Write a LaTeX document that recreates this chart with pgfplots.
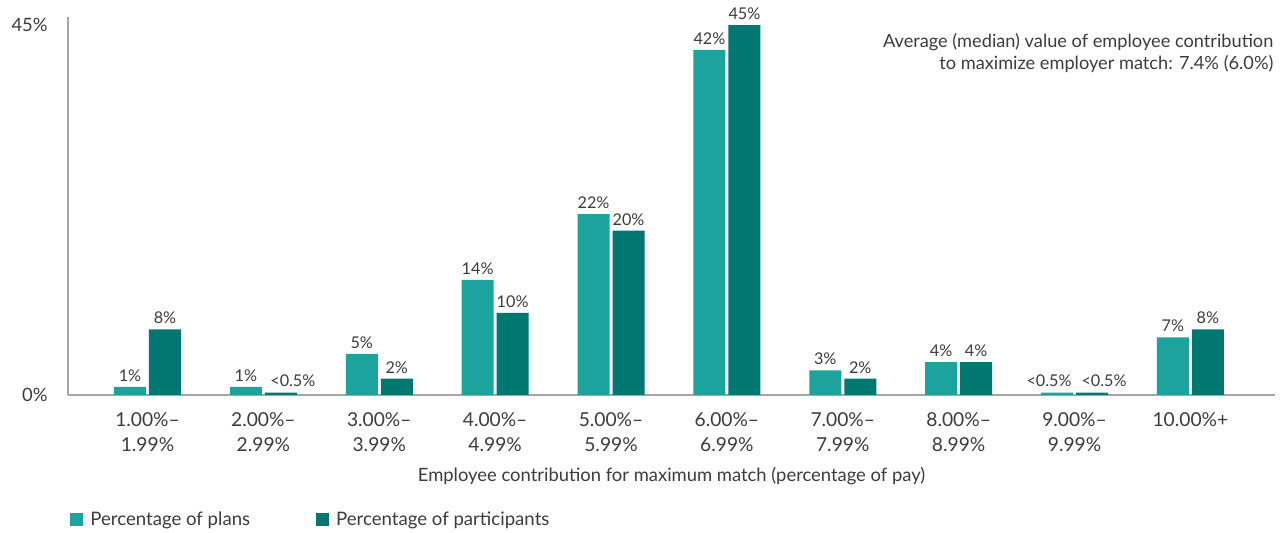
\documentclass[border=0pt]{standalone}
\usepackage{pgfplots}
\pgfplotsset{compat=1.18}
\usepackage{fontspec}
\setmainfont{Lato}
\definecolor{cPlans}{RGB}{29,163,157}
\definecolor{cPart}{RGB}{0,119,112}
\definecolor{cText}{RGB}{60,60,60}
\definecolor{cAxis}{RGB}{165,165,165}

\begin{document}
\begin{tikzpicture}
\useasboundingbox (-34pt,-69pt) rectangle (608.5pt,197.5pt);
\begin{axis}[
  scale only axis, width=603.5pt, height=189pt,
  ybar=1.5pt, bar width=16pt,
  xmin=-0.686, xmax=9.73, ymin=0, ymax=46,
  axis x line=bottom, axis y line=left,
  axis line style={draw=cAxis, line width=0.6pt, -},
  major tick length=0pt,
  xtick={0,...,9},
  xticklabels={1.00\%–\\1.99\%, 2.00\%–\\2.99\%, 3.00\%–\\3.99\%, 4.00\%–\\4.99\%,
    5.00\%–\\5.99\%, 6.00\%–\\6.99\%, 7.00\%–\\7.99\%, 8.00\%–\\8.99\%,
    9.00\%–\\9.99\%, 10.00\%+},
  xticklabel style={align=center, anchor=north, inner sep=0pt, yshift=-8.5pt,
    font=\fontsize{9.6}{12.5}\selectfont, text=cText},
  ytick={0,45}, yticklabels={0\%,45\%},
  yticklabel style={anchor=east, inner sep=0pt, xshift=-10pt,
    font=\fontsize{9.2}{10}\selectfont, text=cText},
  xlabel={Employee contribution for maximum match (percentage of pay)},
  every axis x label/.style={at={(axis description cs:0.5,0)}, anchor=center,
    yshift=-40.5pt, font=\fontsize{9.2}{10}\selectfont, text=cText},
  nodes near coords, point meta=explicit symbolic,
  nodes near coords style={font=\fontsize{8.1}{9}\selectfont, text=cText,
    inner sep=0pt, anchor=south, yshift=2.5pt},
  legend style={at={(axis description cs:0,0)}, anchor=west, yshift=-62.5pt,
    xshift=1pt, draw=none, fill=none, inner sep=0pt,
    font=\fontsize{9.3}{10}\selectfont, text=cText,
    /tikz/every even column/.append style={column sep=31pt}},
  legend columns=2,
  legend image code/.code={\fill[#1] (0pt,-3.25pt) rectangle (6.5pt,3.25pt);},
  clip=false,
]
\addplot[fill=cPlans, draw=none] coordinates {
  (0,1)[1\%] (1,1)[1\%] (2,5)[5\%] (3,14)[14\%] (4,22)[22\%]
  (5,42)[42\%] (6,3)[3\%] (7,4)[4\%] (8,0.3)[{<0.5\%\hspace*{8pt}}] (9,7)[7\%]};
\addplot[fill=cPart, draw=none] coordinates {
  (0,8)[8\%] (1,0.3)[{\hspace*{12pt}<0.5\%}] (2,2)[2\%] (3,10)[10\%] (4,20)[20\%]
  (5,45)[45\%] (6,2)[2\%] (7,4)[4\%] (8,0.3)[{\hspace*{12pt}<0.5\%}] (9,8)[8\%]};
\legend{\hspace*{1.5pt}Percentage of plans, \hspace*{1.5pt}Percentage of participants}
\node[anchor=north east, align=right, inner sep=0pt, text=cText,
  font=\fontsize{9.1}{11}\selectfont] at (rel axis cs:0.999,0.958)
  {Average (median) value of employee contribution\\to maximize employer match: 7.4\% (6.0\%)};
\end{axis}
\end{tikzpicture}
\end{document}
